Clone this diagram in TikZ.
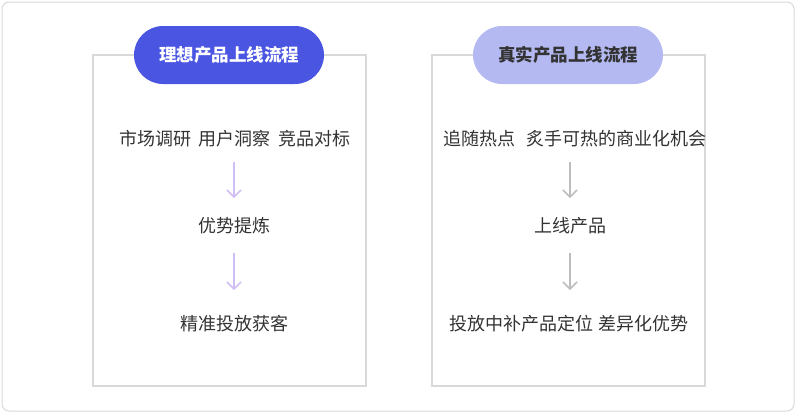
\documentclass[tikz,border=0pt]{standalone}
\usepackage{fontspec}
\setmainfont{Noto Sans CJK SC}
\usetikzlibrary{arrows.meta}
\definecolor{txt}{HTML}{333333}
\definecolor{pillA}{HTML}{4A55E2}
\definecolor{pillB}{HTML}{B4B9F2}
\definecolor{arrA}{HTML}{D2BEF6}
\definecolor{arrB}{HTML}{BDBDBD}
\definecolor{frame}{HTML}{D9D9D9}
\begin{document}
\begin{tikzpicture}[x=1pt,y=-1pt,
  panel/.style={draw=frame,line width=1.5pt},
  pill/.style={rounded corners=29pt,minimum width=190pt,minimum height=58pt,inner sep=0pt,font=\fontsize{17.5}{20}\selectfont\bfseries},
  lbl/.style={text=txt,font=\fontsize{18}{21}\selectfont,inner sep=0pt},
  flow/.style={line width=1.5pt,-{Straight Barb[length=7pt,width=14pt,line width=1.5pt]}}]
\useasboundingbox (0,0) rectangle (796,413);
\draw[draw=frame,line width=1pt,rounded corners=7pt] (2,2) rectangle (794,411);
% left panel
\draw[panel] (93,55) rectangle (366,386);
\node[pill,fill=pillA,text=white] (ta) at (229,55) {理想产品上线流程};
\node[lbl] (a1) at (235,139) {市场调研\hspace{0.4em}用户洞察\hspace{0.4em}竞品对标};
\node[lbl] (a2) at (234,226) {优势提炼};
\node[lbl] (a3) at (234,324) {精准投放获客};
\coordinate (a1b) at (234,162); \coordinate (a2t) at (234,198);
\coordinate (a2b) at (234,253); \coordinate (a3t) at (234,290);
\draw[flow,draw=arrA] (a1b) -- (a2t);
\draw[flow,draw=arrA] (a2b) -- (a3t);
% right panel
\draw[panel] (432,55) rectangle (705,386);
\node[pill,fill=pillB,text=txt] (tb) at (568,55) {真实产品上线流程};
\node[lbl] (b1) at (575,139) {追随热点\hspace{0.6em}炙手可热的商业化机会};
\node[lbl] (b2) at (570,226) {上线产品};
\node[lbl] (b3) at (569,324) {投放中补产品定位\hspace{0.25em}差异化优势};
\coordinate (b1b) at (570,162); \coordinate (b2t) at (570,198);
\coordinate (b2b) at (570,253); \coordinate (b3t) at (570,290);
\draw[flow,draw=arrB] (b1b) -- (b2t);
\draw[flow,draw=arrB] (b2b) -- (b3t);
\end{tikzpicture}
\end{document}
